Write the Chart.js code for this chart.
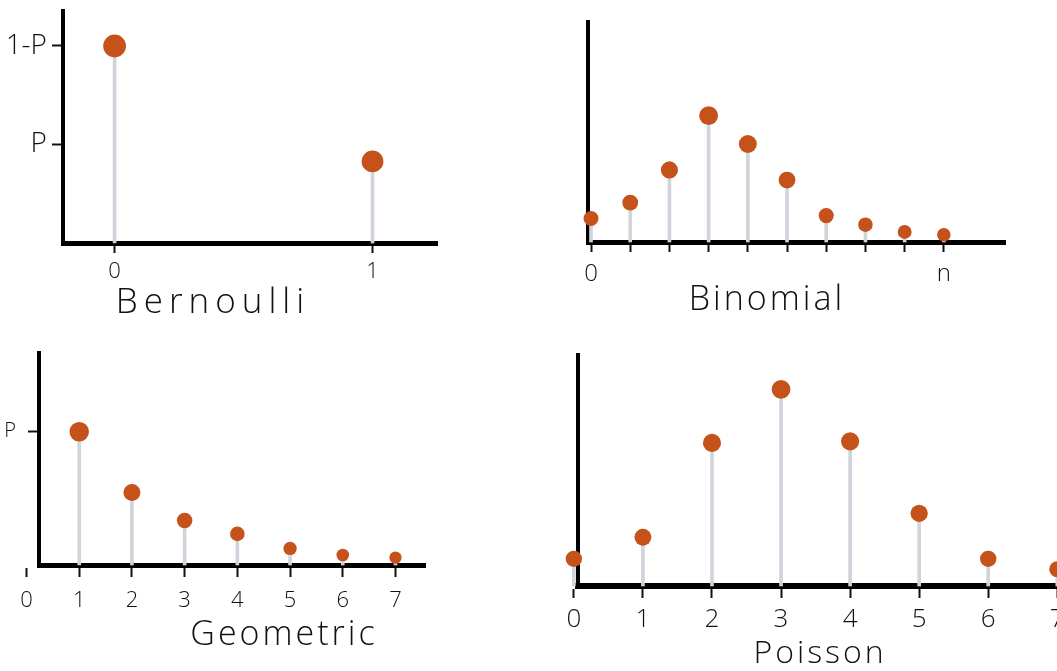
<!DOCTYPE html>
<html>
<head>
<meta charset="utf-8">
<title>Discrete distributions</title>
<script src="https://cdn.jsdelivr.net/npm/chart.js@4/dist/chart.umd.min.js"></script>
<style>
  html, body { margin: 0; padding: 0; background: #fff; }
  body { width: 1057px; height: 671px; overflow: hidden; position: relative; }
  canvas { position: absolute; }
  .caption {
    position: absolute;
    font-family: 'Open Sans', 'DejaVu Sans', sans-serif;
    font-weight: 300;
    color: #111;
    line-height: 1;
    white-space: nowrap;
    letter-spacing: 3px;
    transform: translate(-50%, -50%);
  }
</style>
</head>
<body>
<canvas id="bernoulli" width="450" height="290" style="left:0;top:0"></canvas>
<canvas id="binomial" width="517" height="290" style="left:540px;top:0"></canvas>
<canvas id="geometric" width="450" height="310" style="left:0;top:330px"></canvas>
<canvas id="poisson" width="560" height="310" style="left:540px;top:330px"></canvas>

<div class="caption" style="left:213px;top:299px;font-size:35px;letter-spacing:6px">Bernoulli</div>
<div class="caption" style="left:767px;top:297px;font-size:34px">Binomial</div>
<div class="caption" style="left:284px;top:632px;font-size:34px">Geometric</div>
<div class="caption" style="left:820px;top:651px;font-size:32px">Poisson</div>

<script>
// values (heights relative to each panel's axis)
const bernoulliX = [0, 1];
const bernoulliP = [0.7, 0.29];
const bernoulliXTicks = [0, 1];
const bernoulliXLabels = ['0', '1'];
const bernoulliYTicks = [0.35, 0.7];
const bernoulliYLabels = ['P', '1-P'];

const binomialK = [0, 1, 2, 3, 4, 5, 6, 7, 8, 9];
const binomialP = [0.049, 0.082, 0.15, 0.263, 0.204, 0.129, 0.055, 0.036, 0.021, 0.015];
const binomialXTicks = [0, 1, 2, 3, 4, 5, 6, 7, 8, 9];
const binomialXLabels = ['0', '', '', '', '', '', '', '', '', 'n'];

const geometricK = [1, 2, 3, 4, 5, 6, 7];
const geometricP = [0.45, 0.245, 0.15, 0.105, 0.056, 0.034, 0.025];
const geometricXTicks = [0, 1, 2, 3, 4, 5, 6, 7];
const geometricXLabels = ['0', '1', '2', '3', '4', '5', '6', '7'];
const geometricYTicks = [0.45];
const geometricYLabels = ['P'];

const poissonK = [0, 1, 2, 3, 4, 5, 6, 7];
const poissonP = [0.034, 0.061, 0.179, 0.246, 0.181, 0.091, 0.034, 0.021];
const poissonXTicks = [0, 1, 2, 3, 4, 5, 6, 7];
const poissonXLabels = ['0', '1', '2', '3', '4', '5', '6', '7'];

const DOT = '#c6521b';
const STEM = '#d0d4db';
const INK = '#111';
const FONT = "'Open Sans', 'DejaVu Sans', sans-serif";

Chart.defaults.font.family = FONT;
Chart.defaults.color = INK;

function drawPanel(id, xs, ys, o) {
	const pts = xs.map((x, i) => ({ x: x, y: ys[i] }));

	// bigger blobs for taller stems
	const radius = (ctx) => {
		const v = ctx.raw ? ctx.raw.y : 0;
		const t = Math.sqrt(Math.min(v / o.yMax, 1));
		return o.rMin + (o.rMax - o.rMin) * t;
	};

	new Chart(document.getElementById(id), {
		type: 'bar',
		data: {
			datasets: [{
				type: 'line',
				data: pts,
				showLine: false,
				pointRadius: radius,
				pointHoverRadius: radius,
				pointBackgroundColor: DOT,
				pointBorderWidth: 0,
				clip: false,
				order: 1
			}, {
				type: 'bar',
				data: pts,
				backgroundColor: STEM,
				barThickness: 3,
				clip: false,
				order: 2
			}]
		},
		options: {
			responsive: false,
			animation: false,
			events: [],
			layout: { padding: { top: o.padTop, right: o.padRight, left: 0, bottom: 0 } },
			plugins: { legend: { display: false }, tooltip: { enabled: false } },
			scales: {
				x: {
					type: 'linear',
					min: o.xMin,
					max: o.xMax,
					offset: false,
					afterFit: (s) => {
						s.height = o.xHeight;
						s.paddingLeft = 0;
						s.paddingRight = 0;
					},
					afterBuildTicks: (s) => { s.ticks = o.xTicks.map(v => ({ value: v })); },
					ticks: {
						autoSkip: false,
						maxRotation: 0,
						padding: o.xPad,
						font: { size: o.xFont, weight: '300' },
						color: INK,
						callback: (v, i) => o.xLabels[i]
					},
					grid: {
						offset: false,
						drawOnChartArea: false,
						tickLength: o.xTick,
						tickWidth: 2,
						tickColor: INK
					},
					border: { color: '#000', width: o.xAxisW }
				},
				y: {
					min: 0,
					max: o.yMax,
					afterFit: (s) => {
						s.width = o.yWidth;
						s.paddingTop = 0;
						s.paddingBottom = 0;
					},
					afterBuildTicks: (s) => { s.ticks = o.yTicks.map(v => ({ value: v })); },
					ticks: {
						display: o.yTicks.length > 0,
						autoSkip: false,
						padding: o.yPad,
						font: { size: o.yFont, weight: '300' },
						color: INK,
						callback: (v, i) => o.yLabels[i]
					},
					grid: {
						display: o.yTicks.length > 0,
						drawOnChartArea: false,
						tickLength: 11,
						tickWidth: 2,
						tickColor: INK
					},
					border: { color: '#000', width: 4 }
				}
			}
		}
	});
}

document.addEventListener('DOMContentLoaded', () => {

	drawPanel('bernoulli', bernoulliX, bernoulliP, {
		padTop: 10, padRight: 13, yWidth: 63, xHeight: 47,
		xMin: -0.2, xMax: 1.25, yMax: 0.823,
		xTicks: bernoulliXTicks, xLabels: bernoulliXLabels,
		yTicks: bernoulliYTicks, yLabels: bernoulliYLabels,
		xTick: 10, xPad: 6, xFont: 22, yPad: 5, yFont: 28,
		rMin: 10, rMax: 11.5, xAxisW: 5
	});

	drawPanel('binomial', binomialK, binomialP, {
		padTop: 22, padRight: 52, yWidth: 48, xHeight: 48,
		xMin: -0.077, xMax: 10.56, yMax: 0.458,
		xTicks: binomialXTicks, xLabels: binomialXLabels,
		yTicks: [], yLabels: [],
		xTick: 10, xPad: 8, xFont: 24, yPad: 4, yFont: 20,
		rMin: 6, rMax: 10.5, xAxisW: 5
	});

	drawPanel('geometric', geometricK, geometricP, {
		padTop: 23, padRight: 25, yWidth: 39, xHeight: 75,
		xMin: 0.237, xMax: 7.56, yMax: 0.716,
		xTicks: geometricXTicks, xLabels: geometricXLabels,
		yTicks: geometricYTicks, yLabels: geometricYLabels,
		xTick: 12, xPad: 11, xFont: 22, yPad: 12, yFont: 20,
		rMin: 5, rMax: 11, xAxisW: 5
	});

	drawPanel('poisson', poissonK, poissonP, {
		padTop: 25, padRight: 0, yWidth: 38, xHeight: 54,
		xMin: 0.06, xMax: 7.5, yMax: 0.289,
		xTicks: poissonXTicks, xLabels: poissonXLabels,
		yTicks: [], yLabels: [],
		xTick: 12, xPad: 6, xFont: 26, yPad: 4, yFont: 20,
		rMin: 7.5, rMax: 9.5, xAxisW: 6
	});
});
</script>
</body>
</html>
